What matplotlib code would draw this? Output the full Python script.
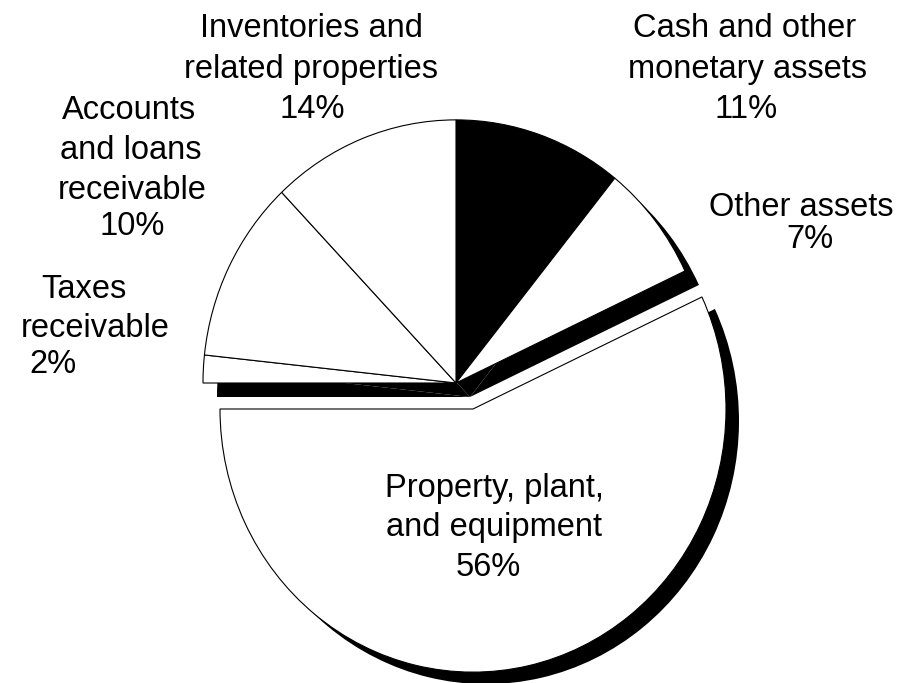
import matplotlib.pyplot as plt
from matplotlib.patches import Wedge

# 资产构成（顺时针，从12点方向开始）
categories = ['Cash and other monetary assets', 'Other assets',
              'Property, plant, and equipment', 'Taxes receivable',
              'Accounts and loans receivable', 'Inventories and related properties']
shares = [10.8, 7.2, 57.0, 1.7, 11.2, 12.1]      # 图上实际画出的扇区大小(%)
pct_labels = ['11%', '7%', '56%', '2%', '10%', '14%']
label_lines = [['Cash and other', 'monetary assets'],
               ['Other assets'],
               ['Property, plant,', 'and equipment'],
               ['Taxes', 'receivable'],
               ['Accounts', 'and loans', 'receivable'],
               ['Inventories and', 'related properties']]
fills = ['black', 'white', 'white', 'white', 'white', 'white']
explode_idx = 2

# 版面（像素坐标）
W, H = 900, 683
ASPECT = 1.04                 # 饼图略呈竖椭圆
CX, CY, R = 456, 383, 253
SHADOW = (14, 14)
EXPLODE = (17, 26)
SHADOW_EX = (13, 12)
label_pos = [[(745, 37), (748, 78), (746, 118)],
             [(801, 216), (810, 248)],
             [(494, 497), (494, 536), (488, 576)],
             [(84, 298), (95, 337), (53, 373)],
             [(129, 119), (131, 159), (132, 199), (132, 235)],
             [(311, 37), (311, 78), (312, 118)]]


def to_data(x, y):
    return x, (H - y) / ASPECT


fig = plt.figure(figsize=(W / 100, H / 100), dpi=100)
ax = fig.add_axes([0, 0, 1, 1])
ax.set_xlim(0, W)
ax.set_ylim(0, H / ASPECT)
ax.set_aspect('auto')
ax.axis('off')

start = 90.0
for i, s in enumerate(shares):
    t2 = start
    t1 = start - s * 3.6
    start = t1
    if i == explode_idx:
        cx, cy = CX + EXPLODE[0], CY + EXPLODE[1]
        sh = SHADOW_EX
    else:
        cx, cy = CX, CY
        sh = SHADOW
    # 阴影
    ax.add_patch(Wedge(to_data(cx + sh[0], cy + sh[1]), R, t1, t2,
                       facecolor='black', edgecolor='none', zorder=1))
    # 扇区
    ax.add_patch(Wedge(to_data(cx, cy), R, t1, t2, facecolor=fills[i],
                       edgecolor='black', linewidth=0.8, zorder=2))

for lines, pct, pos in zip(label_lines, pct_labels, label_pos):
    for txt, (x, y) in zip(lines + [pct], pos):
        fig.text(x / W, 1 - y / H, txt, ha='center', va='baseline',
                 fontsize=23.5, family='Liberation Sans', color='black')

fig.savefig('out.png', dpi=100, facecolor='white')
